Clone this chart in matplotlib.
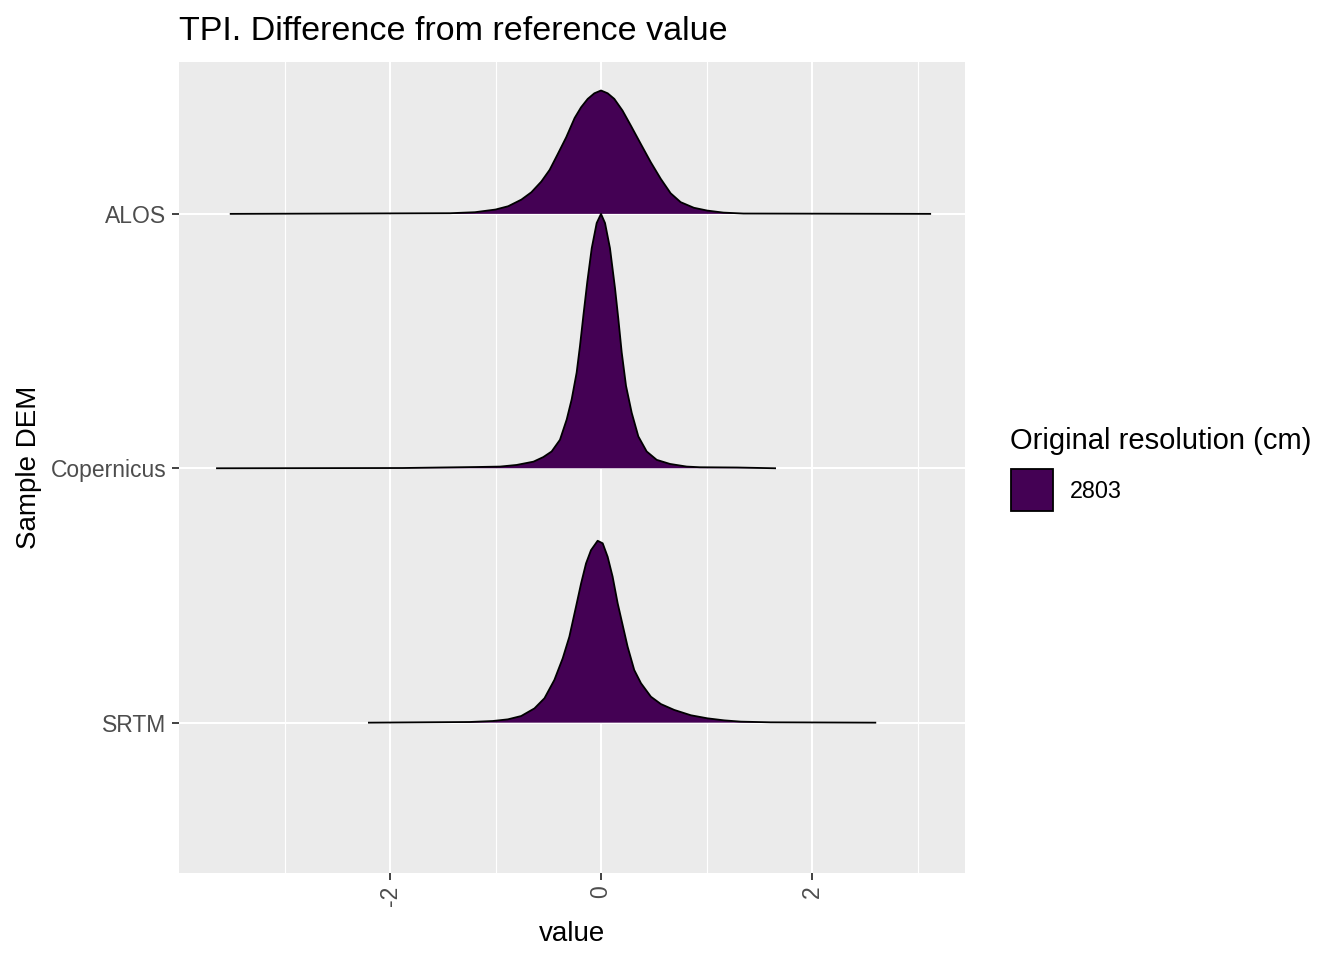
import matplotlib
matplotlib.use("Agg")
import matplotlib.pyplot as plt
from matplotlib.patches import Rectangle

plt.rcParams['font.family'] = ['Liberation Sans', 'DejaVu Sans']

categories = ["SRTM", "Copernicus", "ALOS"]

alos_x = [-3.51, -1.43, -1.195, -1.0, -0.88, -0.755, -0.66, -0.566, -0.487, -0.409, -0.33, -0.25, -0.189,
          -0.126, -0.063, 0.0, 0.063, 0.126, 0.204, 0.283, 0.377, 0.472, 0.566, 0.66, 0.755, 0.88, 1.006,
          1.16, 1.35, 3.12]
alos_h = [0.0, 0.0026, 0.0065, 0.017, 0.030, 0.056, 0.085, 0.127, 0.173, 0.236, 0.301, 0.377, 0.419,
          0.452, 0.474, 0.485, 0.474, 0.452, 0.406, 0.347, 0.275, 0.203, 0.138, 0.081, 0.046, 0.024, 0.013,
          0.005, 0.0013, 0.0]

cop_x = [-3.64, -1.88, -1.17, -0.957, -0.80, -0.64, -0.547, -0.468, -0.389, -0.325, -0.278, -0.231, -0.199,
         -0.167, -0.130, -0.088, -0.041, 0.0, 0.038, 0.085, 0.133, 0.164, 0.196, 0.237, 0.291, 0.354, 0.433,
         0.528, 0.654, 0.812, 0.938, 1.29, 1.65]
cop_h = [0.0, 0.001, 0.005, 0.0066, 0.013, 0.026, 0.044, 0.066, 0.112, 0.192, 0.271, 0.376, 0.482,
         0.601, 0.733, 0.865, 0.964, 1.0, 0.964, 0.865, 0.707, 0.588, 0.456, 0.324, 0.218, 0.125, 0.066,
         0.033, 0.017, 0.0066, 0.004, 0.003, 0.0]

srtm_x = [-2.20, -1.246, -1.025, -0.883, -0.757, -0.631, -0.536, -0.442, -0.363, -0.30, -0.237, -0.189,
          -0.142, -0.095, -0.032, 0.016, 0.063, 0.11, 0.158, 0.205, 0.252, 0.315, 0.379, 0.473, 0.568,
          0.694, 0.852, 1.009, 1.167, 1.325, 1.609, 2.60]
srtm_h = [0.0, 0.0026, 0.0065, 0.013, 0.026, 0.056, 0.096, 0.168, 0.253, 0.338, 0.456, 0.547,
          0.626, 0.678, 0.715, 0.705, 0.652, 0.574, 0.469, 0.384, 0.299, 0.207, 0.155, 0.102, 0.073,
          0.050, 0.029, 0.017, 0.009, 0.004, 0.0013, 0.0]

x_ticks = [-2, 0, 2]
x_minor = [-3, -1, 1, 3]
legend_label = "2803"
fill_color = "#440154"

fig = plt.figure(figsize=(13.44, 9.6), dpi=100)
ax = fig.add_axes([179/1344, 87/960, 786/1344, 811/960])
ax.set_facecolor("#EBEBEB")

series = [(srtm_x, srtm_h), (cop_x, cop_h), (alos_x, alos_h)]
# draw from top (ALOS) to bottom so lower ridges overlay upper ones
for i in [2, 1, 0]:
    xs, hs = series[i]
    base = i + 1
    ys = [base + h for h in hs]
    ax.fill_between(xs, base, ys, facecolor=fill_color, edgecolor="none", zorder=3 + (2 - i))
    ax.plot(xs, ys, color="black", lw=1.3, zorder=3.5 + (2 - i), solid_joinstyle="round")

ax.set_xlim(-4.0, 3.45)
ax.set_ylim(0.409, 3.597)
ax.set_xticks(x_ticks)
ax.set_xticklabels([str(t) for t in x_ticks], rotation=90, va="top", ha="center")
ax.set_xticks(x_minor, minor=True)
ax.set_yticks([1, 2, 3])
ax.set_yticklabels(categories)

ax.grid(which="major", color="white", lw=1.5, zorder=0)
ax.grid(which="minor", axis="x", color="white", lw=0.8, zorder=0)
ax.set_axisbelow(True)
for s in ax.spines.values():
    s.set_visible(False)
ax.tick_params(which="major", length=5, width=1.3, color="#333333", labelcolor="#4D4D4D",
               labelsize=16.5, pad=4)
ax.tick_params(which="minor", length=0)

ax.set_xlabel("value", fontsize=20, color="black", labelpad=11)
ax.set_ylabel("Sample DEM", fontsize=20, color="black", labelpad=6)
fig.text(179/1344, 1 - 31/960, "TPI. Difference from reference value", fontsize=24.5, va="center", ha="left")

# legend
fig.text(1010/1344, 1 - 441/960, "Original resolution (cm)", fontsize=21, va="center", ha="left")
fig.patches.append(Rectangle((1011/1344, 1 - 511/960), 42/1344, 42/960, transform=fig.transFigure,
                             facecolor=fill_color, edgecolor="black", lw=1.3))
fig.text(1070/1344, 1 - 492/960, legend_label, fontsize=16.8, va="center", ha="left")

fig.savefig("out.png", dpi=100)
